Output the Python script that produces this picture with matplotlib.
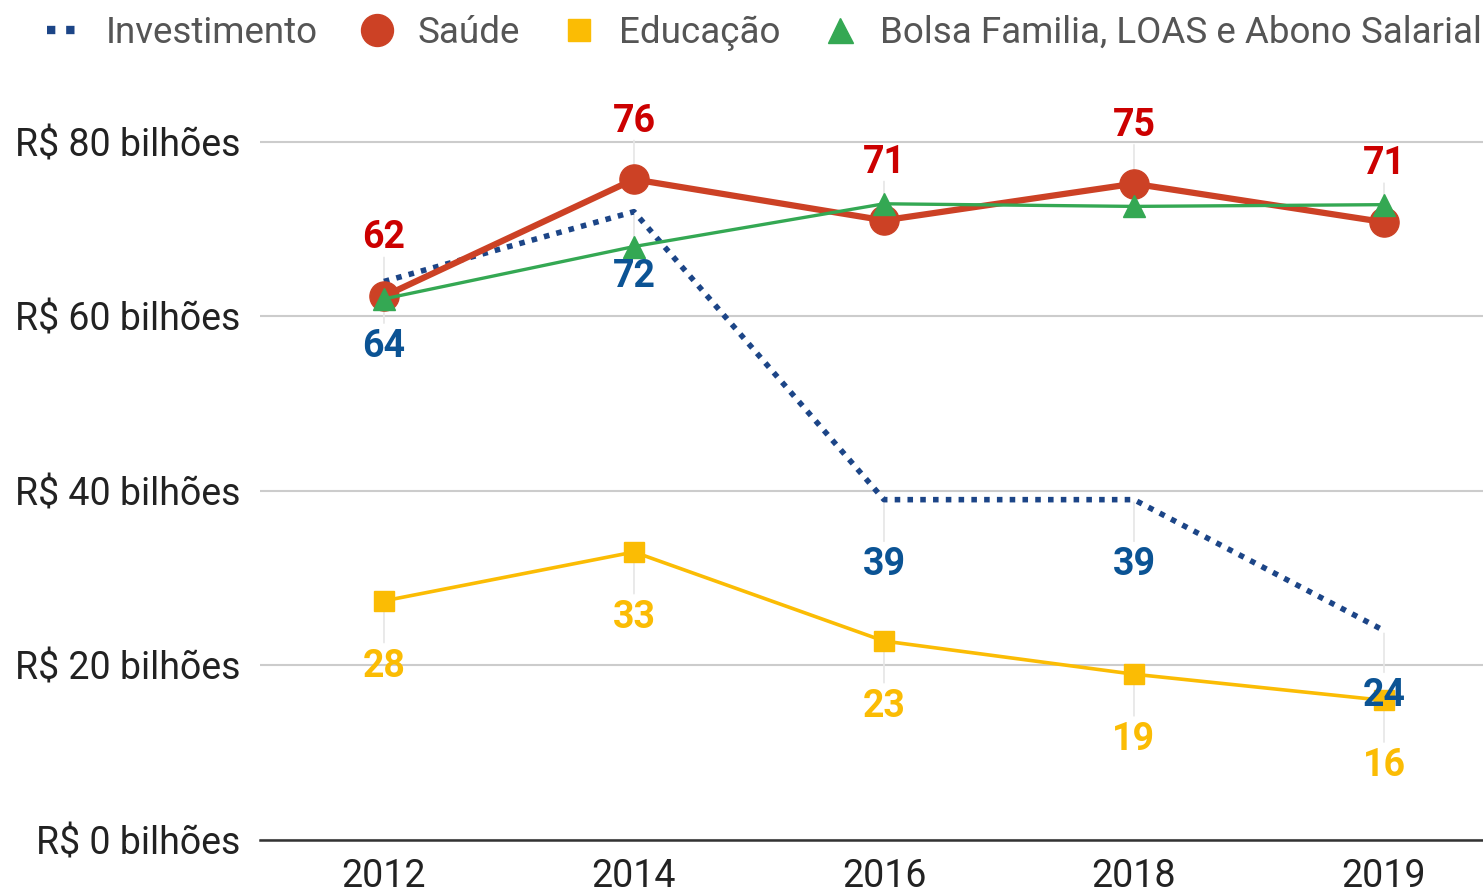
import matplotlib.pyplot as plt
from matplotlib.lines import Line2D

plt.rcParams['font.family'] = ['Roboto', 'DejaVu Sans']

anos = ['2012', '2014', '2016', '2018', '2019']
investimento = [64, 72, 39, 39, 24]
saude = [62.3, 75.7, 71, 75.2, 70.8]
educacao = [27.4, 33, 22.8, 19, 16]
bolsa = [62, 68, 72.9, 72.6, 72.8]

rotulo_inv = ['64', '72', '39', '39', '24']
rotulo_saude = ['62', '76', '71', '75', '71']
rotulo_edu = ['28', '33', '23', '19', '16']

c_inv = '#1c4587'
c_inv_txt = '#0b5394'
c_saude = '#cc4125'
c_saude_txt = '#cc0000'
c_edu = '#fbbc04'
c_bolsa = '#34a853'

fig = plt.figure(figsize=(14.83, 8.91), dpi=100)
ax = fig.add_axes([0.1753, 0.0572, 0.8247, 0.862])
x = list(range(len(anos)))

# short gray leader lines between point and label
for i in x:
    ax.annotate('', (i, saude[i]), xytext=(0, 30), textcoords='offset points',
                arrowprops=dict(arrowstyle='-', color='#e6e6e6', lw=1.2), zorder=1)
    ax.annotate('', (i, investimento[i]), xytext=(0, -32), textcoords='offset points',
                arrowprops=dict(arrowstyle='-', color='#e6e6e6', lw=1.2), zorder=1)
    ax.annotate('', (i, educacao[i]), xytext=(0, -32), textcoords='offset points',
                arrowprops=dict(arrowstyle='-', color='#e6e6e6', lw=1.2), zorder=1)

ax.plot(x, investimento, color=c_inv, lw=4, linestyle=(0, (1, 1.3)), zorder=3)
ax.plot(x, saude, color=c_saude, lw=4.5, marker='o', ms=21, zorder=4)
ax.plot(x, educacao, color=c_edu, lw=2.6, marker='s', ms=14, zorder=3)
ax.plot(x, bolsa, color=c_bolsa, lw=2.4, marker='^', ms=16, zorder=5)

for i in x:
    ax.annotate(rotulo_saude[i], (i, saude[i]), xytext=(0, 42), textcoords='offset points',
                ha='center', va='center', fontsize=27, fontweight='bold', color=c_saude_txt, zorder=6)
    ax.annotate(rotulo_inv[i], (i, investimento[i]), xytext=(0, -47), textcoords='offset points',
                ha='center', va='center', fontsize=27, fontweight='bold', color=c_inv_txt, zorder=6)
    ax.annotate(rotulo_edu[i], (i, educacao[i]), xytext=(0, -47), textcoords='offset points',
                ha='center', va='center', fontsize=27, fontweight='bold', color=c_edu, zorder=6)

ax.set_xlim(-0.496, 4.396)
ax.set_ylim(0, 88)
ax.set_yticks([0, 20, 40, 60, 80])
ax.set_yticklabels(['R$ %d bilhões' % v for v in [0, 20, 40, 60, 80]])
ax.set_xticks(x)
ax.set_xticklabels(anos)
ax.tick_params(axis='both', length=0, labelsize=27, colors='#222222')
ax.tick_params(axis='y', pad=14)
ax.tick_params(axis='x', pad=13)
ax.grid(axis='y', color='#cccccc', lw=1.5)
ax.set_axisbelow(True)
for s in ['top', 'right', 'left']:
    ax.spines[s].set_visible(False)
ax.spines['bottom'].set_color('#333333')
ax.spines['bottom'].set_linewidth(1.8)

handles = [
    Line2D([], [], color=c_inv, lw=6, linestyle=(0, (1, 1.3))),
    Line2D([], [], color=c_saude, marker='o', ms=23, lw=0),
    Line2D([], [], color=c_edu, marker='s', ms=16, lw=0),
    Line2D([], [], color=c_bolsa, marker='^', ms=18, lw=0),
]
labels = ['Investimento', 'Saúde', 'Educação', 'Bolsa Familia, LOAS e Abono Salarial']
leg = fig.legend(handles, labels, loc='center left', bbox_to_anchor=(0.022, 0.963), ncol=4,
                 frameon=False, fontsize=26.5, handlelength=1.0, handletextpad=0.6,
                 columnspacing=1.1, borderaxespad=0)
for t in leg.get_texts():
    t.set_color('#555555')

fig.savefig('out.png', dpi=100)
